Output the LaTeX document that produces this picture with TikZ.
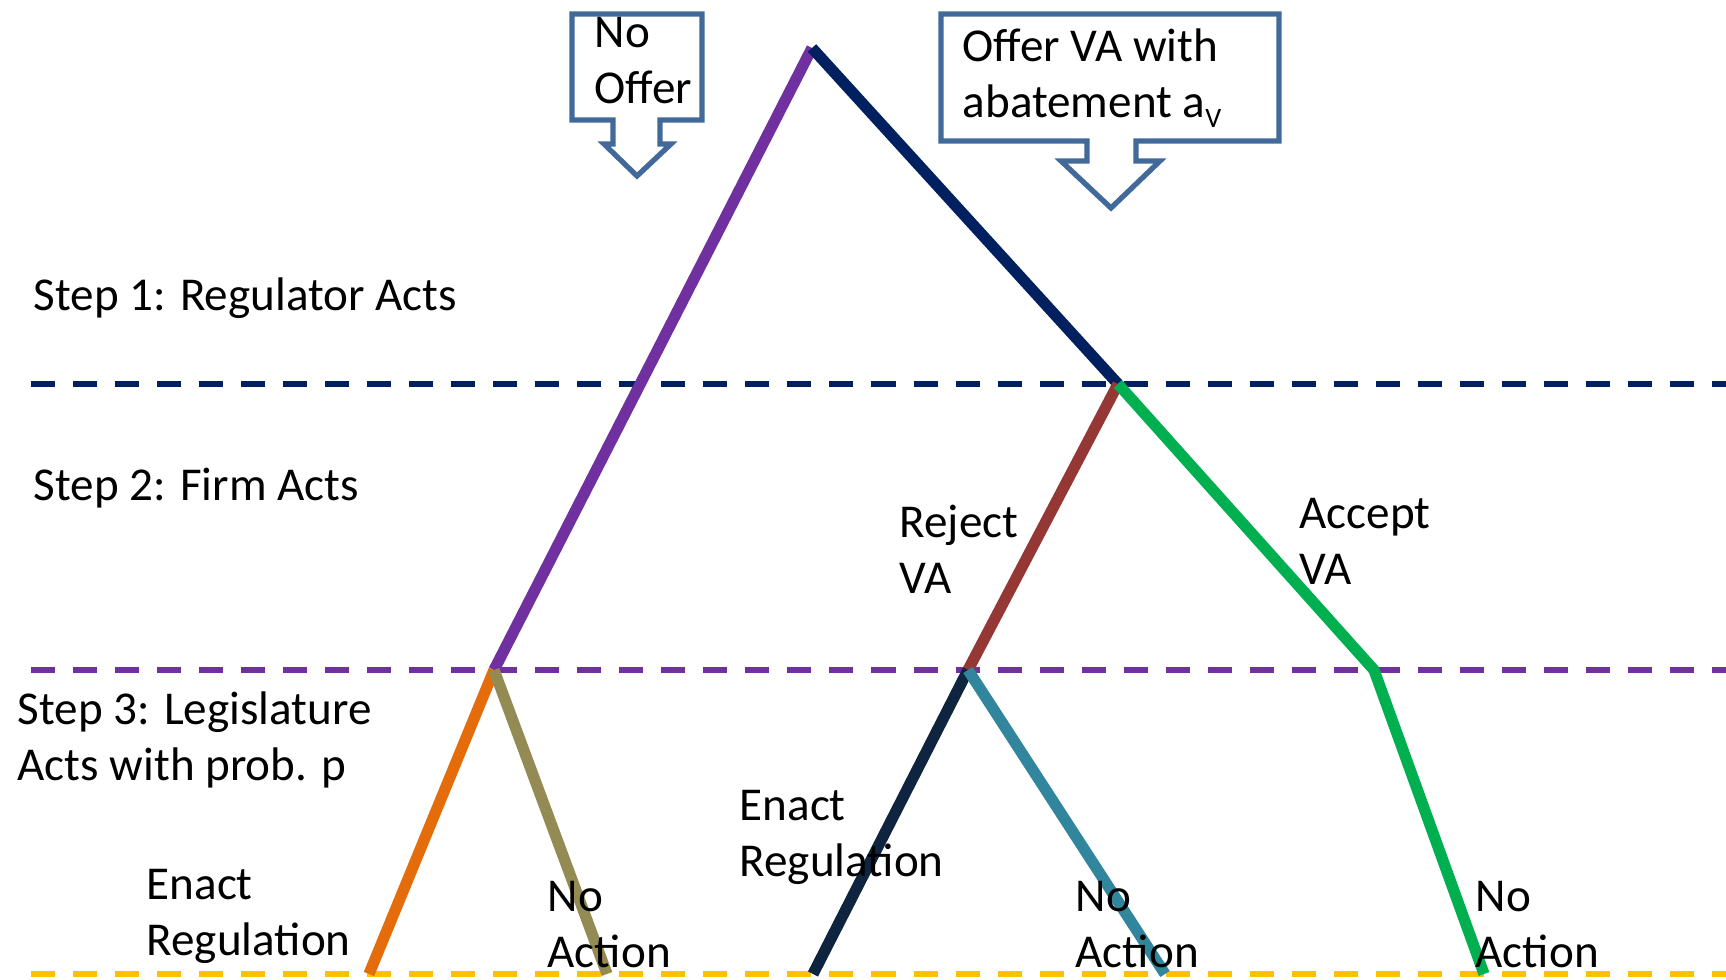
\documentclass[tikz,border=0pt]{standalone}
\usepackage{fontspec}
\setmainfont{Carlito}
\usepackage{xcolor}
\definecolor{navyline}{HTML}{002060}
\definecolor{purpleline}{HTML}{7030A0}
\definecolor{goldline}{HTML}{FFC000}
\definecolor{brownline}{HTML}{953735}
\definecolor{greenline}{HTML}{00B050}
\definecolor{orangeline}{HTML}{E46C0A}
\definecolor{oliveline}{HTML}{948A54}
\definecolor{darknavy}{HTML}{0F243E}
\definecolor{tealline}{HTML}{31859C}
\definecolor{boxblue}{HTML}{41699A}

\begin{document}
\begin{tikzpicture}[x=0.01cm,y=-0.01cm,
    stepline/.style={line width=1.6pt,dash pattern=on 0.24cm off 0.18cm},
    branch/.style={line width=3.2pt},
    callout/.style={draw=boxblue,line width=1.5pt,fill=white,line join=miter},
    lbl/.style={anchor=west,inner sep=0pt,align=left,font=\fontsize{13.4}{15.9}\selectfont}]
        \useasboundingbox (0,0) rectangle (1726,980);

        % stage separators
        \draw[stepline,navyline] (31,384) -- (1726,384);
        \draw[stepline,purpleline] (31,670) -- (1726,670);
        \draw[stepline,goldline] (31,974) -- (1726,974);

        % tree nodes
        \coordinate (root) at (812,48);
        \coordinate (noOffer) at (494,670);
        \coordinate (offer) at (1118,384);
        \coordinate (reject) at (968,670);
        \coordinate (accept) at (1374,670);
        \coordinate (leafA) at (369,974);
        \coordinate (leafB) at (607,974);
        \coordinate (leafC) at (813,974);
        \coordinate (leafD) at (1165,974);
        \coordinate (leafE) at (1484,974);

        % branches
        \draw[branch,purpleline] (root) -- (noOffer);
        \draw[branch,navyline] (root) -- (offer);
        \draw[branch,brownline] (offer) -- (reject);
        \draw[branch,greenline,line join=round] (offer) -- (accept) -- (leafE);
        \draw[branch,orangeline] (noOffer) -- (leafA);
        \draw[branch,oliveline] (noOffer) -- (leafB);
        \draw[branch,darknavy] (reject) -- (leafC);
        \draw[branch,tealline] (reject) -- (leafD);

        % callouts
        \draw[callout] (572,14) -- (702,14) -- (702,120) -- (660,120) -- (660,144)
            -- (671,144) -- (637,176) -- (604,144) -- (613,144) -- (613,120)
            -- (572,120) -- cycle;
        \draw[callout] (941,14) -- (1279,14) -- (1279,141) -- (1136,141) -- (1136,161)
            -- (1160,161) -- (1111,208) -- (1061,161) -- (1087,161) -- (1087,141)
            -- (941,141) -- cycle;
        \node[lbl] (noOfferTxt) at (594,61) {No\\Offer};
        \node[lbl] (offerTxt) at (962,78) {Offer VA with\\abatement a\raisebox{-0.45ex}{\footnotesize V}};

        % step labels
        \node[lbl] (step1) at (33,298) {Step 1: Regulator Acts};
        \node[lbl] (step2) at (33,488) {Step 2: Firm Acts};
        \node[lbl] (step3) at (17,740) {Step 3: Legislature\\Acts with prob. p};

        % branch labels
        \node[lbl] (rejectTxt) at (899,549) {Reject\\VA};
        \node[lbl] (acceptTxt) at (1299,541) {Accept\\VA};
        \node[lbl] (enactA) at (146,916) {Enact\\Regulation};
        \node[lbl] (actionA) at (547,925) {No\\Action};
        \node[lbl] (enactB) at (739,837) {Enact\\Regulation};
        \node[lbl] (actionB) at (1075,925) {No\\Action};
        \node[lbl] (actionC) at (1475,925) {No\\Action};
\end{tikzpicture}
\end{document}
